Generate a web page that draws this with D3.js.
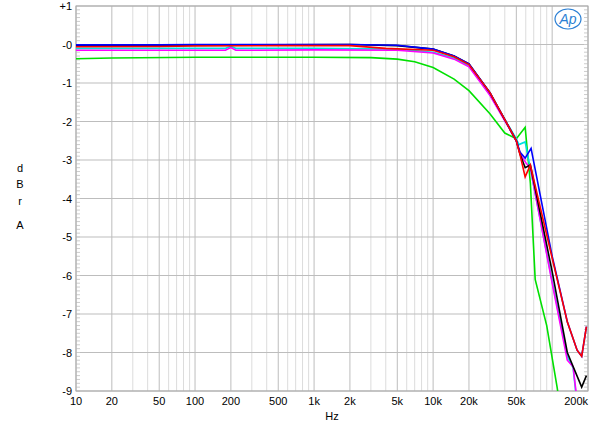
<!DOCTYPE html>
<html><head><meta charset="utf-8">
<script src="https://cdn.jsdelivr.net/npm/d3@7"></script>
<style>body{margin:0;background:#fff}text{font-family:"Liberation Sans",Arial,sans-serif;font-size:11px}</style>
</head><body><svg id="c" width="600" height="432"></svg>
<script>
var xTicks = [10,20,50,100,200,500,1000,2000,5000,10000,20000,50000,200000];
var xTickLabels = ["10","20","50","100","200","500","1k","2k","5k","10k","20k","50k","200k"];
var yTicks = [1,0,-1,-2,-3,-4,-5,-6,-7,-8,-9];
var yTickLabels = ["+1","-0","-1","-2","-3","-4","-5","-6","-7","-8","-9"];

var blackData = [[10,-0.03],[50,-0.02],[100,-0.01],[500,-0.01],[2000,0],[5000,-0.03],[10000,-0.12],[15000,-0.3],[20000,-0.5],[30000,-1.25],[40000,-1.95],[50000,-2.5],[53800,-2.85],[59300,-3.2],[65600,-3.13],[100000,-5.9],[134000,-8.0],[177000,-8.9],[194000,-8.6]];
var redData = [[10,-0.06],[50,-0.05],[100,-0.04],[500,-0.03],[2000,-0.03],[4000,-0.1],[10000,-0.15],[15000,-0.32],[20000,-0.52],[30000,-1.25],[40000,-1.95],[50000,-2.5],[53800,-2.87],[59300,-3.44],[65600,-3.13],[100000,-5.55],[134000,-7.2],[162000,-7.94],[177000,-8.1],[194000,-7.33]];
var blueData = [[10,-0.01],[50,-0.01],[100,0],[500,0],[2000,0],[5000,-0.02],[10000,-0.12],[15000,-0.3],[20000,-0.5],[30000,-1.25],[40000,-1.95],[50000,-2.5],[53800,-2.8],[59300,-2.95],[66500,-2.7],[100000,-5.5],[134000,-7.2],[162000,-7.94],[177000,-8.1],[194000,-7.33]];
var cyanData = [[10,-0.1],[100,-0.1],[180,-0.1],[200,-0.05],[220,-0.1],[1000,-0.1],[5000,-0.12],[10000,-0.2],[15000,-0.35],[20000,-0.55],[30000,-1.3],[40000,-1.95],[50000,-2.45],[52500,-2.6],[59300,-2.53],[100000,-6.15],[134000,-8.1],[150000,-8.4],[160000,-9.2]];
var magentaData = [[10,-0.15],[100,-0.15],[180,-0.15],[200,-0.08],[220,-0.15],[1000,-0.14],[5000,-0.15],[10000,-0.22],[15000,-0.38],[20000,-0.58],[30000,-1.32],[40000,-1.98],[50000,-2.5],[53800,-2.85],[61000,-3.1],[65600,-3.2],[100000,-6.2],[134000,-8.2],[150000,-8.37],[157000,-8.9],[162000,-9.3]];
var greenData = [[10,-0.37],[20,-0.35],[100,-0.33],[1000,-0.33],[3000,-0.34],[5000,-0.38],[7000,-0.45],[10000,-0.6],[15000,-0.9],[20000,-1.2],[30000,-1.8],[40000,-2.3],[50000,-2.45],[59300,-2.15],[65600,-3.6],[72000,-6.1],[90000,-7.3],[110000,-8.9],[115000,-9.3]];
var series = [
  {d: greenData, c: "#00e000"},
  {d: cyanData, c: "#00e0e0"},
  {d: magentaData, c: "#ff00ff"},
  {d: blackData, c: "#000000"},
  {d: blueData, c: "#0000ff"},
  {d: redData, c: "#ff0000"}
];

var svg = d3.select("#c");
var L = 76, R = 588, T = 6, B = 391;
var x = d3.scaleLog().domain([10, 200000]).range([L, R]);
var y = d3.scaleLinear().domain([-9, 1]).range([B, T]);

// x grid, decades darker
var minor = [];
for (var e = 1; e <= 5; e++) for (var m = 1; m <= 9; m++) { var v = m * Math.pow(10, e); if (v <= 200000) minor.push(v); }
svg.append("g").selectAll("line").data(minor).join("line")
  .attr("x1", d => x(d)).attr("x2", d => x(d)).attr("y1", T).attr("y2", B)
  .attr("stroke", d => (xTicks.indexOf(d) >= 0 || [100,1000,10000,100000].indexOf(d) >= 0) ? "#bdbdbd" : "#dcdcdc").attr("stroke-width", 1);
svg.append("g").selectAll("line").data(yTicks).join("line")
  .attr("x1", L).attr("x2", R).attr("y1", d => y(d)).attr("y2", d => y(d))
  .attr("stroke", "#bdbdbd");
var yMinor = d3.range(-90, 10).map(d => d / 10);
svg.append("g").selectAll("line").data(yMinor).join("line")
  .attr("x1", L).attr("x2", L + 4).attr("y1", d => y(d)).attr("y2", d => y(d)).attr("stroke", "#ccc");
svg.append("g").selectAll("line").data(yMinor).join("line")
  .attr("x1", R - 4).attr("x2", R).attr("y1", d => y(d)).attr("y2", d => y(d)).attr("stroke", "#ccc");
svg.append("rect").attr("x", L).attr("y", T).attr("width", R - L).attr("height", B - T)
  .attr("fill", "none").attr("stroke", "#aaa");

svg.append("defs").append("clipPath").attr("id", "clip").append("rect")
  .attr("x", L).attr("y", T).attr("width", R - L).attr("height", B - T);
var line = d3.line().x(d => x(d[0])).y(d => y(d[1]));
svg.append("g").attr("clip-path", "url(#clip)").selectAll("path").data(series).join("path")
  .attr("d", d => line(d.d)).attr("fill", "none").attr("stroke", d => d.c).attr("stroke-width", 1.6);

svg.append("g").selectAll("text").data(xTicks).join("text")
  .attr("x", (d, i) => x(d)).attr("y", 405).attr("text-anchor", (d, i) => i == xTicks.length - 1 ? "end" : "middle")
  .text((d, i) => xTickLabels[i]);
svg.append("g").selectAll("text").data(yTicks).join("text")
  .attr("x", 72).attr("y", d => y(d) + 4).attr("text-anchor", "end")
  .text((d, i) => yTickLabels[i]);
svg.append("text").attr("x", 332).attr("y", 420).attr("text-anchor", "middle").text("Hz");
var lab = [["d", 172], ["B", 188], ["r", 205], ["A", 229]];
svg.append("g").selectAll("text").data(lab).join("text")
  .attr("x", 20).attr("y", d => d[1]).attr("text-anchor", "middle").text(d => d[0]);

// AP logo
svg.append("ellipse").attr("cx", 568).attr("cy", 19).attr("rx", 13).attr("ry", 10)
  .attr("fill", "none").attr("stroke", "#2a7fd4").attr("stroke-width", 1.2);
svg.append("text").attr("x", 568).attr("y", 24).attr("text-anchor", "middle")
  .style("font-size", "14px").style("font-style", "italic").attr("fill", "#2a7fd4").text("Ap");
</script></body></html>
